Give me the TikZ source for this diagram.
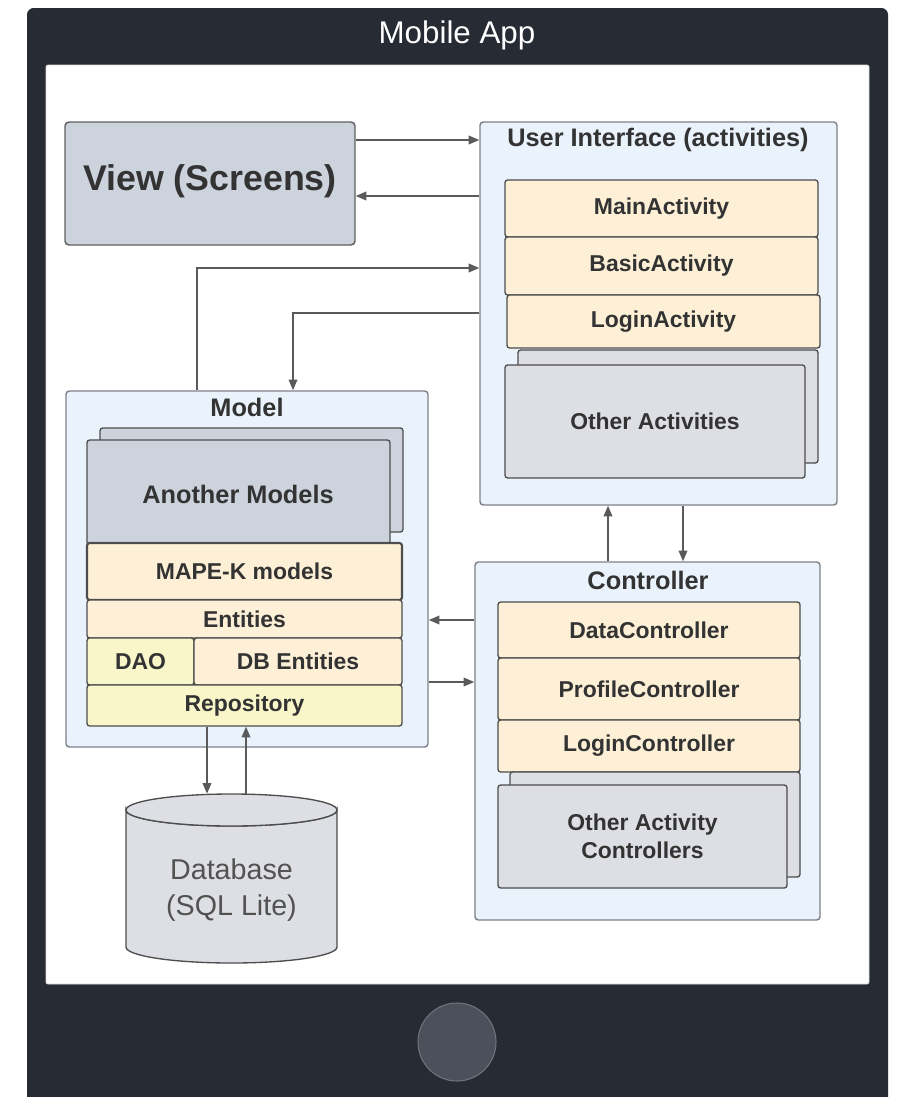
\documentclass[tikz,border=0pt]{standalone}
\usepackage{fontspec}
\setmainfont{Liberation Sans}
\usetikzlibrary{arrows.meta,fit}

\definecolor{framedark}{HTML}{272B33}
\definecolor{buttongray}{HTML}{4B505A}
\definecolor{groupfill}{HTML}{EAF3FC}
\definecolor{groupline}{HTML}{7D8189}
\definecolor{creamfill}{HTML}{FDF0D6}
\definecolor{yellowfill}{HTML}{F9F7CA}
\definecolor{grayfill}{HTML}{DDDFE4}
\definecolor{bluegray}{HTML}{CCD3DD}
\definecolor{itemline}{HTML}{4D4D4D}
\definecolor{textdark}{HTML}{333333}
\definecolor{arrowgray}{HTML}{5A5A5A}

\tikzset{
  group/.style={draw=groupline, fill=groupfill, line width=1.1pt, rounded corners=2.5pt, inner sep=0pt},
  grouptitle/.style={font=\fontsize{19}{22}\selectfont\bfseries, text=textdark, inner sep=0pt},
  item/.style={draw=itemline, fill=creamfill, line width=1pt, rounded corners=2pt, inner sep=0pt},
  yitem/.style={item, fill=yellowfill},
  gitem/.style={item, fill=grayfill},
  bitem/.style={item, fill=bluegray},
  stackback/.style={draw=itemline, fill=grayfill, line width=1pt, rounded corners=2pt, inner sep=0pt},
  itemtext/.style={font=\fontsize{17.2}{21}\selectfont\bfseries, text=textdark, inner sep=0pt, align=center},
  bigtext/.style={font=\fontsize{19}{22}\selectfont\bfseries, text=textdark, inner sep=0pt},
  arr/.style={draw=arrowgray, line width=1.1pt, -{Triangle[length=8pt,width=6.5pt]}},
}

\begin{document}
\begin{tikzpicture}[x=0.75pt, y=-0.75pt]
  \useasboundingbox (0,0) rectangle (897,1097);
  \fill[white] (0,0) rectangle (897,1097);

  % device frame, screen and home button
  \fill[framedark] (27,1097) [rounded corners=5pt]-- (27,8) -- (888,8) [sharp corners]-- (888,1097) -- cycle;
  \node[fill=white, draw=white!85!black, line width=0.6pt, rounded corners=1.5pt, inner sep=0pt,
        fit={(46,65)(869,984)}] (screen) {};
  \node[text=white, font=\fontsize{23.5}{26}\selectfont, inner sep=0pt] (apptitle) at (457,35) {Mobile App};
  \draw[fill=buttongray, draw=buttongray!80!white, line width=0.8pt] (457,1042) circle[radius=39];

  % View
  \node[draw=itemline!90!white, fill=bluegray, line width=1.1pt, rounded corners=3pt, inner sep=0pt,
        fit={(65,122)(355,245)}] (view) {};
  \node[font=\fontsize{26.8}{30}\selectfont\bfseries, text=textdark, inner sep=0pt] (viewtext) at (210,181) {View (Screens)};

  % User interface group
  \node[group, fit={(480,122)(837,505)}] (ui) {};
  \node[grouptitle] (uititle) at (658,140) {User Interface (activities)};
  \node[item, fit={(505,180)(818,237)}] (mainact) {};
  \node[itemtext] at (mainact) {MainActivity};
  \node[item, fit={(505,237)(818,295)}] (basicact) {};
  \node[itemtext] at (basicact) {BasicActivity};
  \node[item, fit={(507,295)(820,348)}] (loginact) {};
  \node[itemtext] at (loginact) {LoginActivity};
  \node[stackback, fit={(518,350)(818,463)}] (otheractback) {};
  \node[gitem, fit={(505,365)(805,478)}] (otheract) {};
  \node[itemtext] at (otheract) {Other Activities};

  % Model group
  \node[group, fit={(66,391)(428,747)}] (model) {};
  \node[grouptitle] (modeltitle) at (247,407) {Model};
  \node[stackback, fill=bluegray, fit={(100,428)(403,532)}] (anotherback) {};
  \node[bitem, fit={(87,440)(390,545)}] (another) {};
  \node[bigtext] at (238,494) {Another Models};
  \node[item, line width=1.6pt, fit={(87,543)(402,600)}] (mapek) {};
  \node[itemtext] at (mapek) {MAPE-K models};
  \node[item, fit={(87,600)(402,638)}] (entities) {};
  \node[itemtext] at (entities) {Entities};
  \node[yitem, fit={(87,638)(194,685)}] (dao) {};
  \node[itemtext] at (dao) {DAO};
  \node[item, fit={(194,638)(402,685)}] (dbent) {};
  \node[itemtext] at (dbent) {DB Entities};
  \node[yitem, fit={(87,685)(402,726)}] (repo) {};
  \node[itemtext] at (repo) {Repository};

  % Controller group
  \node[group, fit={(475,562)(820,920)}] (ctrl) {};
  \node[grouptitle] (ctrltitle) at (648,580) {Controller};
  \node[item, fit={(498,602)(800,658)}] (datactrl) {};
  \node[itemtext] at (datactrl) {DataController};
  \node[item, fit={(498,658)(800,720)}] (profilectrl) {};
  \node[itemtext] at (profilectrl) {ProfileController};
  \node[item, fit={(498,720)(800,772)}] (loginctrl) {};
  \node[itemtext] at (loginctrl) {LoginController};
  \node[stackback, fit={(510,772)(800,877)}] (otherctrlback) {};
  \node[gitem, fit={(498,785)(787,888)}] (otherctrl) {};
  \node[itemtext] at (otherctrl) {Other Activity\\Controllers};

  % Database cylinder
  \node[inner sep=0pt, fit={(126,794)(337,963)}] (db) {};
  \path[fill=grayfill, draw=itemline, line width=1pt]
    (126,810) -- (126,947) arc[start angle=180, end angle=0, x radius=105.5, y radius=16]
    -- (337,810) arc[start angle=0, end angle=180, x radius=105.5, y radius=16] -- cycle;
  \draw[fill=grayfill, draw=itemline, line width=1pt] (231.5,810) ellipse[x radius=105.5, y radius=16];
  \node[font=\fontsize{21.5}{27}\selectfont, text=textdark!85!white, align=center, inner sep=0pt]
    (dbtext) at (231.5,890) {Database\\(SQL Lite)};

  % connector rows and columns
  \coordinate (rowA) at (0,140);
  \coordinate (rowB) at (0,196);
  \coordinate (bendA) at (197,268);
  \coordinate (bendB) at (293,313);
  \coordinate (colA) at (608,0);
  \coordinate (colB) at (683,0);
  \coordinate (rowC) at (0,620);
  \coordinate (rowD) at (0,682);
  \coordinate (colC) at (207,0);
  \coordinate (colD) at (246,0);

  % connectors
  \draw[arr] (view.east |- rowA) -- (ui.west |- rowA);
  \draw[arr] (ui.west |- rowB) -- (view.east |- rowB);
  \draw[arr] (model.north -| bendA) |- (ui.west |- bendA);
  \draw[arr] (ui.west |- bendB) -| (model.north -| bendB);
  \draw[arr] (ctrl.north -| colA) -- (ui.south -| colA);
  \draw[arr] (ui.south -| colB) -- (ctrl.north -| colB);
  \draw[arr] (ctrl.west |- rowC) -- (model.east |- rowC);
  \draw[arr] (model.east |- rowD) -- (ctrl.west |- rowD);
  \draw[arr] (repo.south -| colC) -- (db.north -| colC);
  \draw[arr] (db.north -| colD) -- (repo.south -| colD);
\end{tikzpicture}
\end{document}
